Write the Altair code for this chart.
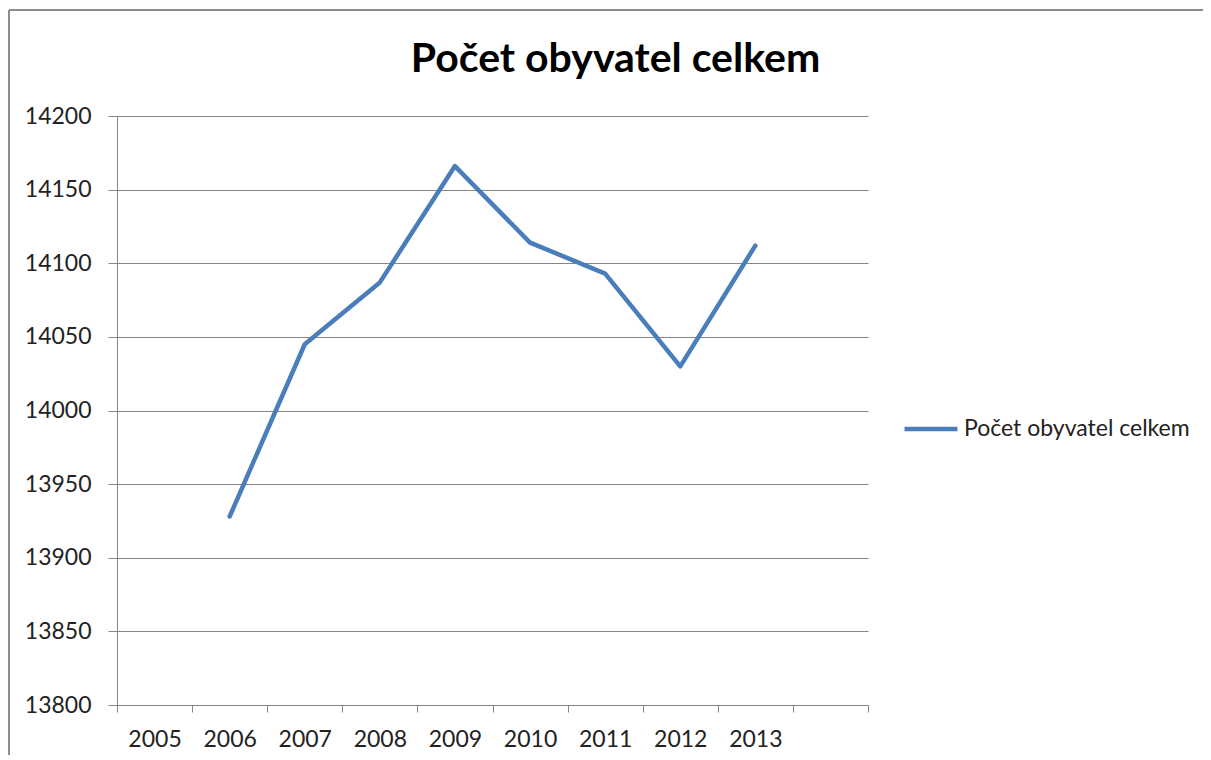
import altair as alt
import pandas as pd

# categories on the x axis (10 bands, last one unlabeled)
all_years = ["2005", "2006", "2007", "2008", "2009", "2010", "2011", "2012", "2013", "2014"]
years = ["2006", "2007", "2008", "2009", "2010", "2011", "2012", "2013"]
values = [13928, 14045, 14087, 14166, 14114, 14093, 14030, 14112]
series_name = "Počet obyvatel celkem"

df = pd.DataFrame({"rok": years, "pocet": values, "serie": [series_name] * len(years)})

FONT = "Lato"
BLUE = "#4A7EBB"

line = alt.Chart(df).mark_line(strokeWidth=4.5, strokeCap="round", strokeJoin="round").encode(
    x=alt.X(
        "rok:N",
        bandPosition=0.5,
        sort=all_years,
        scale=alt.Scale(type="band", domain=all_years, paddingInner=0, paddingOuter=0),
        axis=alt.Axis(
            title=None,
            labelAngle=0,
            tickBand="extent",
            tickSize=7,
            tickColor="#868686",
            domainColor="#868686",
            labelPadding=16,
            labelFontSize=23,
            labelFont=FONT,
            labelColor="#222222",
            labelExpr="datum.value == '2014' ? '' : datum.label",
            grid=False,
        ),
    ),
    y=alt.Y(
        "pocet:Q",
        scale=alt.Scale(domain=[13800, 14200], nice=False, zero=False),
        axis=alt.Axis(
            title=None,
            values=list(range(13800, 14201, 50)),
            format="d",
            tickSize=9,
            tickColor="#868686",
            domainColor="#868686",
            gridColor="#868686",
            labelPadding=17,
            labelFontSize=23,
            labelFont=FONT,
            labelColor="#222222",
        ),
    ),
    color=alt.Color(
        "serie:N",
        scale=alt.Scale(range=[BLUE]),
        legend=alt.Legend(
            title=None,
            orient="none",
            legendX=785,
            legendY=284,
            symbolType="stroke",
            symbolSize=2800,
            symbolStrokeWidth=4.5,
            symbolStrokeColor=BLUE,
            labelFontSize=23,
            labelFont=FONT,
            labelColor="#222222",
            labelOffset=4,
            labelLimit=400,
        ),
    ),
)

frame_src = pd.DataFrame({"a": [0]})
frame_left = alt.Chart(frame_src).mark_rule(color="#8c8c8c", strokeWidth=2).encode(
    x=alt.value(-108), y=alt.value(-106), y2=alt.value(640)
)
frame_top = alt.Chart(frame_src).mark_rule(color="#8c8c8c", strokeWidth=2).encode(
    x=alt.value(-108), x2=alt.value(1086), y=alt.value(-106)
)

chart = alt.layer(frame_left, frame_top, line).properties(
    width=751,
    height=589,
    autosize=alt.AutoSizeParams(type="none"),
    padding={"left": 109, "top": 108, "right": 335, "bottom": 50},
    title=alt.Title(
        "Počet obyvatel celkem",
        font=FONT,
        fontSize=41,
        fontWeight="bold",
        color="#000000",
        anchor="middle",
        dx=123,
        offset=-72,
    ),
).configure_view(stroke=None).configure_axis(domainWidth=1, tickWidth=1, gridWidth=1)

chart.save("out.html", embed_options={"renderer": "svg", "actions": False})
